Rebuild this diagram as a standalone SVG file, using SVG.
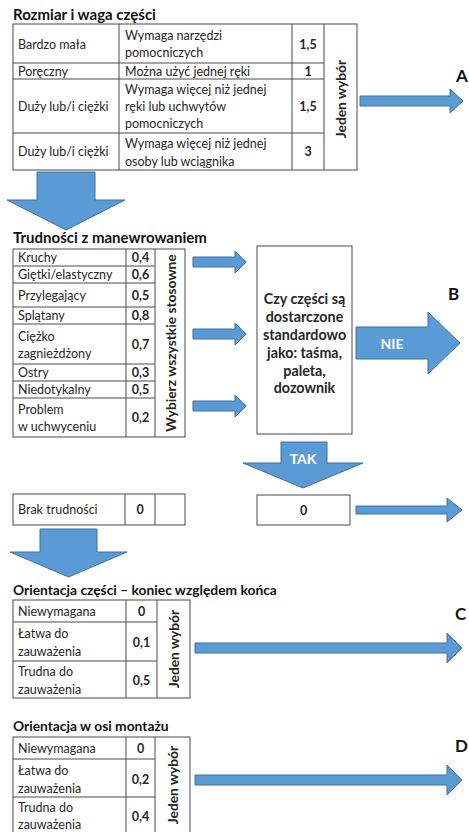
<svg xmlns="http://www.w3.org/2000/svg" width="469" height="832" viewBox="0 0 469 832">
<style>
.bg{fill:#ffffff}
.cell{fill:#ffffff;stroke:#4a4a4a;stroke-width:1}
.ln{stroke:#4a4a4a;stroke-width:1;fill:none}
.t{font-family:Lato,"Open Sans","Liberation Sans",sans-serif;font-size:12.5px;fill:#262626;dominant-baseline:central}
.b{font-weight:bold}
.c{text-anchor:middle}
.v{font-size:13.8px}
.d{font-size:14.3px}
.h{font-family:Lato,"Open Sans","Liberation Sans",sans-serif;font-size:15px;font-weight:bold;fill:#111111}
.h2{font-size:13.8px}
.lbl{font-family:Lato,"Open Sans","Liberation Sans",sans-serif;font-size:17px;font-weight:bold;fill:#111111}
.arr{fill:#5b9bd5;stroke:#41719c;stroke-width:1}
.w{font-family:Lato,"Open Sans","Liberation Sans",sans-serif;font-size:14px;font-weight:bold;fill:#ffffff;text-anchor:middle;dominant-baseline:central}
</style>
<rect class="bg" x="0" y="0" width="469" height="832"/>

<g id="table-rozmiar">
<text class="h" x="13" y="20">Rozmiar i waga części</text>
<rect class="cell" x="13" y="24" width="344" height="146"/>
<path class="ln" d="M119,24V170M292,24V170M324,24V170M13,63H324M13,79H324M13,133H324"/>
<text class="t" x="18" y="44">Bardzo mała</text>
<text class="t" x="125" y="35">Wymaga narzędzi</text>
<text class="t" x="125" y="52">pomocniczych</text>
<text class="t b c" x="308" y="44">1,5</text>
<text class="t" x="18" y="71">Poręczny</text>
<text class="t" x="125" y="71">Można użyć jednej ręki</text>
<text class="t b c" x="308" y="71">1</text>
<text class="t" x="18" y="106">Duży lub/i ciężki</text>
<text class="t" x="125" y="89">Wymaga więcej niż jednej</text>
<text class="t" x="125" y="106">ręki lub uchwytów</text>
<text class="t" x="125" y="123">pomocniczych</text>
<text class="t b c" x="308" y="106">1,5</text>
<text class="t" x="18" y="151">Duży lub/i ciężki</text>
<text class="t" x="125" y="143">Wymaga więcej niż jednej</text>
<text class="t" x="125" y="161">osoby lub wciągnika</text>
<text class="t b c" x="308" y="151">3</text>
<text class="t b c v" transform="translate(340.5,99) rotate(-90)">Jeden wybór</text>
</g>

<g id="table-trudnosci">
<text class="h" x="13" y="243">Trudności z manewrowaniem</text>
<rect class="cell" x="13" y="249" width="172" height="188"/>
<path class="ln" d="M126,249V437M155,249V437M13,266H155M13,283H155M13,307H155M13,324H155M13,364H155M13,381H155M13,398H155"/>
<text class="t" x="18" y="257.5">Kruchy</text>
<text class="t b c" x="140.5" y="257.5">0,4</text>
<text class="t" x="18" y="274.5">Giętki/elastyczny</text>
<text class="t b c" x="140.5" y="274.5">0,6</text>
<text class="t" x="18" y="295">Przylegający</text>
<text class="t b c" x="140.5" y="295">0,5</text>
<text class="t" x="18" y="315.5">Splątany</text>
<text class="t b c" x="140.5" y="315.5">0,8</text>
<text class="t" x="18" y="336">Ciężko</text>
<text class="t" x="18" y="353">zagnieżdżony</text>
<text class="t b c" x="140.5" y="344">0,7</text>
<text class="t" x="18" y="372.5">Ostry</text>
<text class="t b c" x="140.5" y="372.5">0,3</text>
<text class="t" x="18" y="389.5">Niedotykalny</text>
<text class="t b c" x="140.5" y="389.5">0,5</text>
<text class="t" x="18" y="409">Problem</text>
<text class="t" x="18" y="426">w uchwyceniu</text>
<text class="t b c" x="140.5" y="417.5">0,2</text>
<text class="t b c v" transform="translate(170,343) rotate(-90)">Wybierz wszystkie stosowne</text>
</g>

<g id="decision">
<rect class="cell" x="257" y="246" width="95" height="188"/>
<text class="t b c d" x="304.5" y="298">Czy części są</text>
<text class="t b c d" x="304.5" y="316">dostarczone</text>
<text class="t b c d" x="304.5" y="334">standardowo</text>
<text class="t b c d" x="304.5" y="352">jako: taśma,</text>
<text class="t b c d" x="304.5" y="370">paleta,</text>
<text class="t b c d" x="304.5" y="387">dozownik</text>
</g>

<g id="brak">
<rect class="cell" x="13" y="494" width="172" height="31"/>
<path class="ln" d="M125,494V525M155,494V525"/>
<text class="t" x="18" y="509.5">Brak trudności</text>
<text class="t b c" x="140" y="509.5">0</text>
</g>

<g id="zero">
<rect class="cell" x="257" y="495" width="93" height="30"/>
<text class="t b c" x="303.5" y="510">0</text>
</g>

<g id="table-orientacja-konca">
<text class="h h2" x="13" y="595">Orientacja części – koniec względem końca</text>
<rect class="cell" x="13" y="600" width="177" height="98"/>
<path class="ln" d="M126,600V698M157,600V698M13,622H157M13,661H157"/>
<text class="t" x="18" y="611">Niewymagana</text>
<text class="t b c" x="141.5" y="611">0</text>
<text class="t" x="18" y="633">Łatwa do</text>
<text class="t" x="18" y="651">zauważenia</text>
<text class="t b c" x="141.5" y="642">0,1</text>
<text class="t" x="18" y="671">Trudna do</text>
<text class="t" x="18" y="689">zauważenia</text>
<text class="t b c" x="141.5" y="680">0,5</text>
<text class="t b c v" transform="translate(173.5,649) rotate(-90)">Jeden wybór</text>
</g>

<g id="table-orientacja-osi">
<text class="h h2" x="13" y="731">Orientacja w osi montażu</text>
<rect class="cell" x="13" y="737" width="177" height="100"/>
<path class="ln" d="M126,737V837M155,737V837M13,759H155M13,797H155"/>
<text class="t" x="18" y="748">Niewymagana</text>
<text class="t b c" x="140.5" y="748">0</text>
<text class="t" x="18" y="770">Łatwa do</text>
<text class="t" x="18" y="788">zauważenia</text>
<text class="t b c" x="140.5" y="779">0,2</text>
<text class="t" x="18" y="807">Trudna do</text>
<text class="t" x="18" y="824">zauważenia</text>
<text class="t b c" x="140.5" y="816">0,4</text>
<text class="t b c v" transform="translate(172.5,785) rotate(-90)">Jeden wybór</text>
</g>

<g id="labels">
<text class="lbl" x="456" y="82">A</text>
<text class="lbl" x="448" y="300">B</text>
<text class="lbl" x="455" y="620">C</text>
<text class="lbl" x="455" y="752">D</text>
</g>

<g id="connectors">
<polygon class="arr" points="360,96 450,96 450,89 463,101 450,113 450,106 360,106"/>
<polygon class="arr" points="37,172 95,172 95,200 125,200 66,230 7,200 37,200"/>
<polygon class="arr" points="193,257 235,257 235,251 246,262 235,273 235,267 193,267"/>
<polygon class="arr" points="193,329 235,329 235,323 246,334 235,345 235,339 193,339"/>
<polygon class="arr" points="193,401 235,401 235,395 246,406 235,417 235,411 193,411"/>
<polygon class="arr" points="356,327 428,327 428,312 460,343 428,374 428,359 356,359"/>
<text class="w" x="392" y="343">NIE</text>
<polygon class="arr" points="281,442 327,442 327,463 363,463 303,488 243,463 281,463"/>
<text class="w" x="303" y="458">TAK</text>
<polygon class="arr" points="356,506 447,506 447,498 462,510 447,522 447,514 356,514"/>
<polygon class="arr" points="40,529 97,529 97,552 127,552 68.5,577 10,552 40,552"/>
<polygon class="arr" points="195,643 447,643 447,633 462,648 447,663 447,653 195,653"/>
<polygon class="arr" points="195,775 447,775 447,765 462,780 447,795 447,785 195,785"/>
</g>
</svg>
